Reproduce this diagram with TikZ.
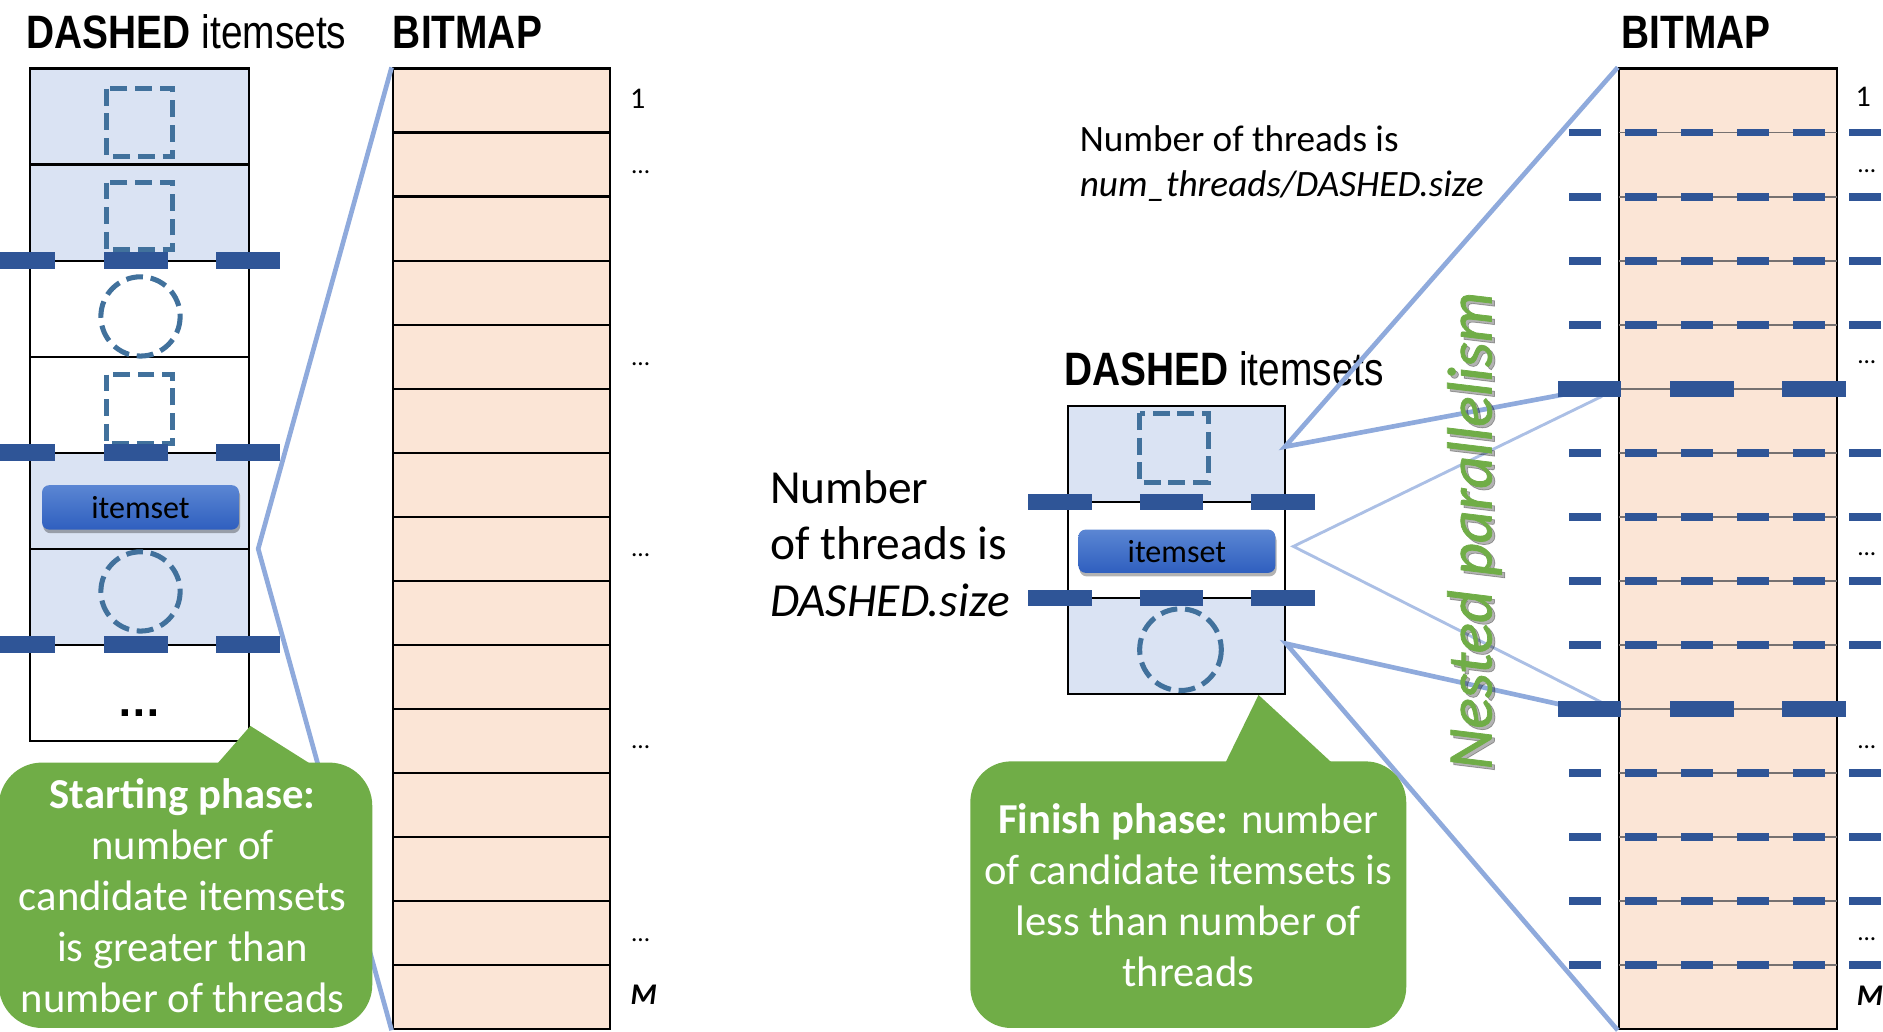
\documentclass[tikz,border=0pt]{standalone}
\usepackage{fontspec}
\setmainfont{Carlito}
\newfontfamily\narrowsans[FakeStretch=0.83]{Liberation Sans}
\newfontfamily\dejavu{DejaVu Sans}
\newfontfamily\captionfont[FakeBold=1.2]{Carlito}
\usetikzlibrary{shadows}

\definecolor{paleblue}{HTML}{DAE3F3}
\definecolor{peach}{HTML}{FBE5D6}
\definecolor{threadblue}{HTML}{2F5597}
\definecolor{outlineblue}{HTML}{41719C}
\definecolor{linkblue}{HTML}{8FAADC}
\definecolor{leafgreen}{HTML}{70AD47}
\definecolor{btntop}{HTML}{5B86D3}
\definecolor{btnbot}{HTML}{2F5FBF}
\definecolor{rulegray}{HTML}{767171}

\tikzset{
  heading/.style={font=\narrowsans\fontsize{39}{44}\selectfont, anchor=base west, inner sep=0pt},
  frame/.style={draw=black, line width=1.8pt, inner sep=0pt},
  rowline/.style={draw=black, line width=1.8pt},
  itemdash/.style={draw=outlineblue, line width=4.2pt, dash pattern=on 14pt off 6.5pt},
  link/.style={draw=linkblue, line width=3.9pt},
  thinlink/.style={draw=linkblue, line width=2.4pt, draw opacity=0.75},
  button/.style={rounded corners=6pt, top color=btntop, bottom color=btnbot, draw=none,
    font=\fontsize{26.7}{30}\selectfont, text=black, inner sep=0pt,
    drop shadow={shadow xshift=1pt, shadow yshift=-3pt, opacity=0.3, fill=black}},
  bubbletext/.style={font=\fontsize{35.5}{42.5}\selectfont, text=white, align=center, anchor=base, inner sep=0pt},
  plain/.style={font=\fontsize{31}{37.5}\selectfont, align=left, anchor=base west, inner sep=0pt},
  rowmark/.style={font=\fontsize{25}{30}\selectfont, anchor=base, inner sep=0pt},
  dotmark/.style={font=\fontsize{21}{25}\selectfont, anchor=base, inner sep=0pt},
  lastmark/.style={font=\bfseries\itshape\fontsize{25}{30}\selectfont, anchor=base west, inner sep=0pt},
  caption/.style={rotate=90, anchor=base west, inner sep=0pt,
    font=\captionfont\itshape\fontsize{53}{60}\selectfont},
}

\begin{document}
\begin{tikzpicture}[x=1pt,y=-1pt]
\useasboundingbox (0,0) rectangle (1568,859);

% ---------------- headings
\node[heading] (titleL) at (22,40) {\textbf{DASHED} itemsets};
\node[heading] (bitmapTitleL) at (327,40) {\textbf{BITMAP}};
\node[heading] (bitmapTitleR) at (1350,40) {\textbf{BITMAP}};

% ---------------- left: candidate column
\foreach \k/\c in {0/paleblue,1/paleblue,2/white,3/white,4/paleblue,5/paleblue,6/white}
  \fill[\c] (25,{57+80*\k}) rectangle (207,{137+80*\k});
\foreach \k in {1,...,6}
  \draw[rowline] (25,{57+80*\k}) -- (207,{57+80*\k});
\node[frame, minimum width=182pt, minimum height=560pt] (colL) at (116,337) {};

\draw[itemdash] (89,74) rectangle (144,130);
\draw[itemdash] (89,152) rectangle (144,208);
\draw[itemdash] (117,263.5) circle[radius=33];
\draw[itemdash] (89,312) rectangle (144,369);
\draw[itemdash] (117,492.5) circle[radius=33];
\node[button, minimum width=164pt, minimum height=37pt] (btnL) at (117,422.5) {itemset};
\node[font=\dejavu\bfseries\fontsize{30}{34}\selectfont, anchor=base, inner sep=0pt] (moreL) at (116,597) {...};

% ---------------- left: bitmap
\fill[peach] (327,57) rectangle (508,857);
\foreach \k in {1,...,14}
  \draw[rowline] (327,{57+800*\k/15}) -- (508,{57+800*\k/15});
\node[frame, minimum width=181pt, minimum height=800pt] (bmL) at (417.5,457) {};

\coordinate (foldL) at (215,457);
\draw[link, line join=miter] (bmL.north west) -- (foldL) -- (bmL.south west);

% thread boundaries across the candidate column
\foreach \y in {217,377,537}
  \foreach \x in {-7,86.5,180}
    \fill[threadblue] (\x,{\y-7}) rectangle ++(53,14);

\node[rowmark] (rowFirstL) at (531,90) {1};
\foreach \y in {144.5,304,463.5,623.5,784}
  \node[dotmark] at (533.5,\y) {...};
\node[lastmark] (rowLastL) at (525,836.6) {M};

% ---------------- middle: remaining candidates
% (multi-line nodes are placed by the baseline of their last line)
\node[plain] (numTxt) at (899,163.8) {Number of threads is\\\textit{num\_threads/DASHED.size}};
\node[plain, font=\fontsize{39.5}{47.2}\selectfont] (sizeTxt) at (641,513.5)
  {Number\\of threads is\\\textit{DASHED.size}};
\node[heading] (titleM) at (886,321) {\textbf{DASHED} itemsets};

\fill[paleblue] (889,338) rectangle (1070,418);
\fill[white] (889,418) rectangle (1070,498);
\fill[paleblue] (889,498) rectangle (1070,578);
\draw[rowline] (889,418) -- (1070,418);
\draw[rowline] (889,498) -- (1070,498);
\node[frame, minimum width=181pt, minimum height=240pt] (colM) at (979.5,458) {};
\draw[itemdash] (949,344) rectangle (1006,402);
\node[button, minimum width=164pt, minimum height=36pt] (btnM) at (980,459) {itemset};
\draw[itemdash] (983,541) circle[radius=34];

% ---------------- right: bitmap with nested threads
\fill[peach] (1348,57) rectangle (1530,857);
\node[frame, minimum width=182pt, minimum height=800pt] (bmR) at (1439,457) {};

\coordinate (fanTop) at (1070,372);
\coordinate (fanMid) at (1077,455);
\coordinate (fanBot) at (1071,536);
\coordinate (jointA) at (1310,327);
\coordinate (jointB) at (1310,589);
\coordinate (tipA) at (1334,330);
\coordinate (tipB) at (1334,585);
\draw[link] (bmR.north west) -- (fanTop) -- (jointA);
\draw[thinlink] (tipA) -- (fanMid) -- (tipB);
\draw[link] (jointB) -- (fanBot) -- (bmR.south west);

\foreach \k in {1,2,3,4,6,7,8,9,11,12,13,14} {
  \draw[rulegray, line width=1.6pt] (1348,{57+800*\k/15}) -- (1530,{57+800*\k/15});
  \foreach \j in {0,...,5}
    \fill[threadblue] ({1306.5+46.6*\j},{57+800*\k/15-3.3}) rectangle ++(26.6,6.6);
}
\foreach \k in {5,10} {
  \draw[rulegray, line width=1.6pt] (1348,{57+800*\k/15}) -- (1530,{57+800*\k/15});
  \foreach \x in {1297,1390.5,1484}
    \fill[threadblue] (\x,{57+800*\k/15-6.8}) rectangle ++(53,13.6);
}
\foreach \x in {856,949,1042}
  \foreach \y in {418,498}
    \fill[threadblue] (\x,{\y-7}) rectangle ++(53,14);

\node[rowmark] (rowFirstR) at (1551.5,89) {1};
\foreach \y in {143.6,303,462.7,623,783}
  \node[dotmark] at (1554.5,\y) {...};
\node[lastmark] (rowLastR) at (1546,837) {M};

% vertical caption with a soft shadow
\node[caption, text=black, opacity=0.3] at (1244.5,643.5) {Nested parallelism};
\node[caption, text=leafgreen] (nested) at (1242,641) {Nested parallelism};

% ---------------- callouts
\fill[leafgreen, rounded corners=36pt] (-1,635) rectangle (310,856);
\fill[leafgreen] (180,637) -- (208.5,604.5) -- (260,637) -- cycle;
\node[bubbletext] (startTxt) at (152,843)
  {\textbf{Starting phase:}\\number of\\candidate itemsets\\is greater than\\number of threads};

\fill[leafgreen, rounded corners=34pt] (808,634) rectangle (1171,856);
\fill[leafgreen] (1020,636) -- (1048,578.7) -- (1110,636) -- cycle;
\node[bubbletext] (finishTxt) at (989.5,821.5)
  {\textbf{Finish phase:} number\\of candidate itemsets is\\less than number of\\threads};
\end{tikzpicture}
\end{document}
